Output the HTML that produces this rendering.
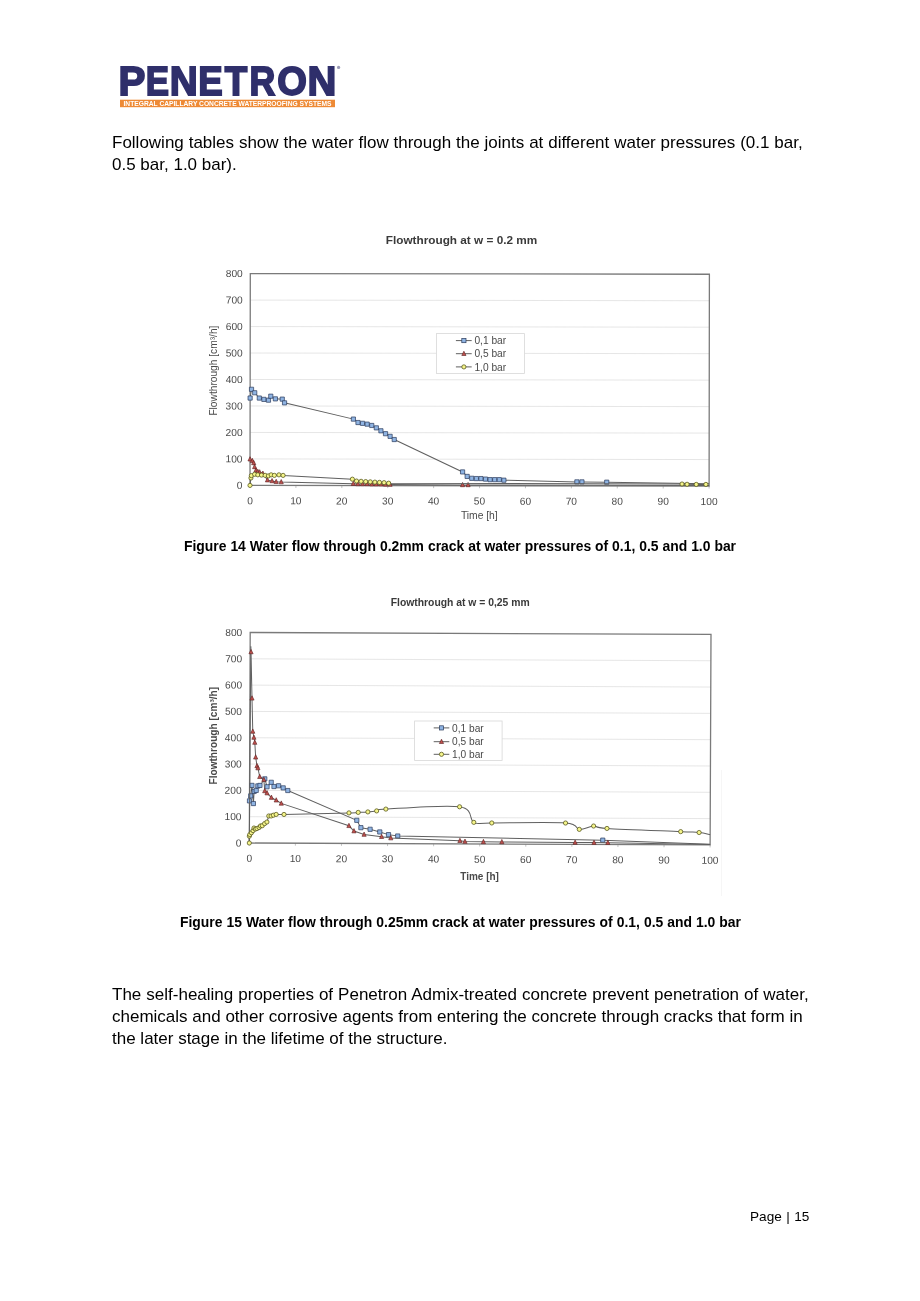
<!DOCTYPE html>
<html><head><meta charset="utf-8"><title>Penetron page 15</title>
<style>
html,body{margin:0;padding:0;background:#fff;}
body{width:920px;height:1301px;position:relative;overflow:hidden;font-family:"Liberation Sans",sans-serif;color:#000;}
.t{position:absolute;white-space:nowrap;margin:0;will-change:transform;}
.body{font-size:17px;line-height:22px;}
.cap{font-size:13.9px;font-weight:bold;line-height:16px;}
svg{position:absolute;left:0;top:0;will-change:transform;}
.ax{font-family:"Liberation Sans",sans-serif;font-size:10.2px;fill:#4a4a4a;}
.tt{font-family:"Liberation Sans",sans-serif;font-weight:bold;fill:#3a3a3a;}
.lgo{font-family:"Liberation Sans",sans-serif;font-weight:bold;font-size:41px;fill:#2f2f6b;stroke:#2f2f6b;stroke-width:1.8px;}
.lg{font-family:"Liberation Sans",sans-serif;fill:#4a4a4a;}
</style></head><body>
<svg width="920" height="1301" viewBox="0 0 920 1301">
<!-- logo -->
<text transform="translate(118.6 0) scale(0.9826 1)" x="0" y="95.2" class="lgo">P</text>
<text transform="translate(145.76 0) scale(0.8521 1)" x="0" y="95.2" class="lgo">E</text>
<text transform="translate(169.81 0) scale(0.9459 1)" x="0" y="95.2" class="lgo">N</text>
<text transform="translate(198.24 0) scale(0.8956 1)" x="0" y="95.2" class="lgo">E</text>
<text transform="translate(224.79 0) scale(0.8988 1)" x="0" y="95.2" class="lgo">T</text>
<text transform="translate(249.41 0) scale(0.8722 1)" x="0" y="95.2" class="lgo">R</text>
<text transform="translate(277.34 0) scale(0.9302 1)" x="0" y="95.2" class="lgo">O</text>
<text transform="translate(307.53 0) scale(0.9750 1)" x="0" y="95.2" class="lgo">N</text>
<circle cx="338.6" cy="67.4" r="1.6" fill="#9a9ab5"/>
<rect x="120" y="99.7" width="215" height="7.5" fill="#ee8a35"/>
<text x="123.5" y="105.7" textLength="208" lengthAdjust="spacingAndGlyphs" style="font-family:'Liberation Sans',sans-serif;font-weight:bold;font-size:6.6px;fill:#fff">INTEGRAL CAPILLARY CONCRETE WATERPROOFING SYSTEMS</text>
<text x="461.5" y="243.6" text-anchor="middle" class="tt" style="font-size:11.7px" textLength="151.5" lengthAdjust="spacingAndGlyphs">Flowthrough at w = 0.2 mm</text>
<g transform="rotate(0.08 250.3 273.6)">
<line x1="250.3" y1="458.92" x2="709.4" y2="458.92" stroke="#e0e0e0" stroke-width="0.8"/>
<line x1="250.3" y1="432.45" x2="709.4" y2="432.45" stroke="#e0e0e0" stroke-width="0.8"/>
<line x1="250.3" y1="405.98" x2="709.4" y2="405.98" stroke="#e0e0e0" stroke-width="0.8"/>
<line x1="250.3" y1="379.5" x2="709.4" y2="379.5" stroke="#e0e0e0" stroke-width="0.8"/>
<line x1="250.3" y1="353.02" x2="709.4" y2="353.02" stroke="#e0e0e0" stroke-width="0.8"/>
<line x1="250.3" y1="326.55" x2="709.4" y2="326.55" stroke="#e0e0e0" stroke-width="0.8"/>
<line x1="250.3" y1="300.08" x2="709.4" y2="300.08" stroke="#e0e0e0" stroke-width="0.8"/>
<line x1="250.3" y1="485.4" x2="250.3" y2="487.9" stroke="#aaa" stroke-width="0.7"/>
<line x1="296.21" y1="485.4" x2="296.21" y2="487.9" stroke="#aaa" stroke-width="0.7"/>
<line x1="342.12" y1="485.4" x2="342.12" y2="487.9" stroke="#aaa" stroke-width="0.7"/>
<line x1="388.03" y1="485.4" x2="388.03" y2="487.9" stroke="#aaa" stroke-width="0.7"/>
<line x1="433.94" y1="485.4" x2="433.94" y2="487.9" stroke="#aaa" stroke-width="0.7"/>
<line x1="479.85" y1="485.4" x2="479.85" y2="487.9" stroke="#aaa" stroke-width="0.7"/>
<line x1="525.76" y1="485.4" x2="525.76" y2="487.9" stroke="#aaa" stroke-width="0.7"/>
<line x1="571.67" y1="485.4" x2="571.67" y2="487.9" stroke="#aaa" stroke-width="0.7"/>
<line x1="617.58" y1="485.4" x2="617.58" y2="487.9" stroke="#aaa" stroke-width="0.7"/>
<line x1="663.49" y1="485.4" x2="663.49" y2="487.9" stroke="#aaa" stroke-width="0.7"/>
<line x1="709.4" y1="485.4" x2="709.4" y2="487.9" stroke="#aaa" stroke-width="0.7"/>
<rect x="250.3" y="273.6" width="459.1" height="211.8" fill="none" stroke="#7a7a7a" stroke-width="1.3"/>
<text x="242.8" y="488.9" text-anchor="end" class="ax">0</text>
<text x="242.8" y="462.42" text-anchor="end" class="ax">100</text>
<text x="242.8" y="435.95" text-anchor="end" class="ax">200</text>
<text x="242.8" y="409.48" text-anchor="end" class="ax">300</text>
<text x="242.8" y="383" text-anchor="end" class="ax">400</text>
<text x="242.8" y="356.52" text-anchor="end" class="ax">500</text>
<text x="242.8" y="330.05" text-anchor="end" class="ax">600</text>
<text x="242.8" y="303.58" text-anchor="end" class="ax">700</text>
<text x="242.8" y="277.1" text-anchor="end" class="ax">800</text>
<text x="250.3" y="504.3" text-anchor="middle" class="ax">0</text>
<text x="296.21" y="504.3" text-anchor="middle" class="ax">10</text>
<text x="342.12" y="504.3" text-anchor="middle" class="ax">20</text>
<text x="388.03" y="504.3" text-anchor="middle" class="ax">30</text>
<text x="433.94" y="504.3" text-anchor="middle" class="ax">40</text>
<text x="479.85" y="504.3" text-anchor="middle" class="ax">50</text>
<text x="525.76" y="504.3" text-anchor="middle" class="ax">60</text>
<text x="571.67" y="504.3" text-anchor="middle" class="ax">70</text>
<text x="617.58" y="504.3" text-anchor="middle" class="ax">80</text>
<text x="663.49" y="504.3" text-anchor="middle" class="ax">90</text>
<text x="709.4" y="504.3" text-anchor="middle" class="ax">100</text>
<path d="M250.3 398.03 L251.68 389.3 L254.89 392.74 L259.48 398.03 L264.07 399.36 L268.66 400.15 L270.96 396.18 L275.55 398.83 L282.44 399.09 L284.73 402.8 L353.6 418.95 L358.19 422.39 L362.78 423.18 L367.37 423.98 L371.96 425.3 L376.55 427.68 L381.14 430.6 L385.73 433.51 L390.33 436.16 L394.46 439.33 L462.86 471.63 L467.45 476.13 L472.05 477.99 L476.64 478.25 L481.23 478.25 L485.82 478.78 L490.41 479.31 L495 479.31 L499.59 479.31 L504.18 479.84 L577.18 481.43 L582.23 481.43 L607.02 481.69 L709.4 483.02" fill="none" stroke="#606060" stroke-width="1"/>
<rect x="248.2" y="395.93" width="4.2" height="4.2" fill="#8fb4e3" stroke="#2a3a5a" stroke-width="0.7"/>
<rect x="249.58" y="387.2" width="4.2" height="4.2" fill="#8fb4e3" stroke="#2a3a5a" stroke-width="0.7"/>
<rect x="252.79" y="390.64" width="4.2" height="4.2" fill="#8fb4e3" stroke="#2a3a5a" stroke-width="0.7"/>
<rect x="257.38" y="395.93" width="4.2" height="4.2" fill="#8fb4e3" stroke="#2a3a5a" stroke-width="0.7"/>
<rect x="261.97" y="397.26" width="4.2" height="4.2" fill="#8fb4e3" stroke="#2a3a5a" stroke-width="0.7"/>
<rect x="266.56" y="398.05" width="4.2" height="4.2" fill="#8fb4e3" stroke="#2a3a5a" stroke-width="0.7"/>
<rect x="268.86" y="394.08" width="4.2" height="4.2" fill="#8fb4e3" stroke="#2a3a5a" stroke-width="0.7"/>
<rect x="273.45" y="396.73" width="4.2" height="4.2" fill="#8fb4e3" stroke="#2a3a5a" stroke-width="0.7"/>
<rect x="280.34" y="396.99" width="4.2" height="4.2" fill="#8fb4e3" stroke="#2a3a5a" stroke-width="0.7"/>
<rect x="282.63" y="400.7" width="4.2" height="4.2" fill="#8fb4e3" stroke="#2a3a5a" stroke-width="0.7"/>
<rect x="351.5" y="416.85" width="4.2" height="4.2" fill="#8fb4e3" stroke="#2a3a5a" stroke-width="0.7"/>
<rect x="356.09" y="420.29" width="4.2" height="4.2" fill="#8fb4e3" stroke="#2a3a5a" stroke-width="0.7"/>
<rect x="360.68" y="421.08" width="4.2" height="4.2" fill="#8fb4e3" stroke="#2a3a5a" stroke-width="0.7"/>
<rect x="365.27" y="421.88" width="4.2" height="4.2" fill="#8fb4e3" stroke="#2a3a5a" stroke-width="0.7"/>
<rect x="369.86" y="423.2" width="4.2" height="4.2" fill="#8fb4e3" stroke="#2a3a5a" stroke-width="0.7"/>
<rect x="374.45" y="425.58" width="4.2" height="4.2" fill="#8fb4e3" stroke="#2a3a5a" stroke-width="0.7"/>
<rect x="379.04" y="428.5" width="4.2" height="4.2" fill="#8fb4e3" stroke="#2a3a5a" stroke-width="0.7"/>
<rect x="383.63" y="431.41" width="4.2" height="4.2" fill="#8fb4e3" stroke="#2a3a5a" stroke-width="0.7"/>
<rect x="388.23" y="434.06" width="4.2" height="4.2" fill="#8fb4e3" stroke="#2a3a5a" stroke-width="0.7"/>
<rect x="392.36" y="437.23" width="4.2" height="4.2" fill="#8fb4e3" stroke="#2a3a5a" stroke-width="0.7"/>
<rect x="460.76" y="469.53" width="4.2" height="4.2" fill="#8fb4e3" stroke="#2a3a5a" stroke-width="0.7"/>
<rect x="465.35" y="474.03" width="4.2" height="4.2" fill="#8fb4e3" stroke="#2a3a5a" stroke-width="0.7"/>
<rect x="469.95" y="475.89" width="4.2" height="4.2" fill="#8fb4e3" stroke="#2a3a5a" stroke-width="0.7"/>
<rect x="474.54" y="476.15" width="4.2" height="4.2" fill="#8fb4e3" stroke="#2a3a5a" stroke-width="0.7"/>
<rect x="479.13" y="476.15" width="4.2" height="4.2" fill="#8fb4e3" stroke="#2a3a5a" stroke-width="0.7"/>
<rect x="483.72" y="476.68" width="4.2" height="4.2" fill="#8fb4e3" stroke="#2a3a5a" stroke-width="0.7"/>
<rect x="488.31" y="477.21" width="4.2" height="4.2" fill="#8fb4e3" stroke="#2a3a5a" stroke-width="0.7"/>
<rect x="492.9" y="477.21" width="4.2" height="4.2" fill="#8fb4e3" stroke="#2a3a5a" stroke-width="0.7"/>
<rect x="497.49" y="477.21" width="4.2" height="4.2" fill="#8fb4e3" stroke="#2a3a5a" stroke-width="0.7"/>
<rect x="502.08" y="477.74" width="4.2" height="4.2" fill="#8fb4e3" stroke="#2a3a5a" stroke-width="0.7"/>
<rect x="575.08" y="479.33" width="4.2" height="4.2" fill="#8fb4e3" stroke="#2a3a5a" stroke-width="0.7"/>
<rect x="580.13" y="479.33" width="4.2" height="4.2" fill="#8fb4e3" stroke="#2a3a5a" stroke-width="0.7"/>
<rect x="604.92" y="479.59" width="4.2" height="4.2" fill="#8fb4e3" stroke="#2a3a5a" stroke-width="0.7"/>
<path d="M250.3 459.19 L252.6 460.78 L253.97 462.9 L254.89 466.87 L256.27 470.31 L258.1 471.63 L259.94 472.16 L263.15 473.49 L267.75 480.1 L272.34 480.9 L276.47 481.69 L281.52 481.96 L353.6 483.55 L358.19 483.81 L362.78 483.81 L367.37 483.81 L371.96 484.08 L376.55 484.08 L381.14 484.08 L385.73 484.34 L390.33 484.34 L462.86 484.61 L468.37 484.61 L709.4 484.87" fill="none" stroke="#606060" stroke-width="1"/>
<path d="M250.3 456.69L252.4 460.99L248.2 460.99Z" fill="#c0504d" stroke="#5a2020" stroke-width="0.6"/>
<path d="M252.6 458.28L254.7 462.58L250.5 462.58Z" fill="#c0504d" stroke="#5a2020" stroke-width="0.6"/>
<path d="M253.97 460.4L256.07 464.7L251.87 464.7Z" fill="#c0504d" stroke="#5a2020" stroke-width="0.6"/>
<path d="M254.89 464.37L256.99 468.67L252.79 468.67Z" fill="#c0504d" stroke="#5a2020" stroke-width="0.6"/>
<path d="M256.27 467.81L258.37 472.11L254.17 472.11Z" fill="#c0504d" stroke="#5a2020" stroke-width="0.6"/>
<path d="M258.1 469.13L260.2 473.43L256 473.43Z" fill="#c0504d" stroke="#5a2020" stroke-width="0.6"/>
<path d="M259.94 469.66L262.04 473.96L257.84 473.96Z" fill="#c0504d" stroke="#5a2020" stroke-width="0.6"/>
<path d="M263.15 470.99L265.25 475.29L261.05 475.29Z" fill="#c0504d" stroke="#5a2020" stroke-width="0.6"/>
<path d="M267.75 477.6L269.85 481.9L265.65 481.9Z" fill="#c0504d" stroke="#5a2020" stroke-width="0.6"/>
<path d="M272.34 478.4L274.44 482.7L270.24 482.7Z" fill="#c0504d" stroke="#5a2020" stroke-width="0.6"/>
<path d="M276.47 479.19L278.57 483.49L274.37 483.49Z" fill="#c0504d" stroke="#5a2020" stroke-width="0.6"/>
<path d="M281.52 479.46L283.62 483.76L279.42 483.76Z" fill="#c0504d" stroke="#5a2020" stroke-width="0.6"/>
<path d="M353.6 481.05L355.7 485.35L351.5 485.35Z" fill="#c0504d" stroke="#5a2020" stroke-width="0.6"/>
<path d="M358.19 481.31L360.29 485.61L356.09 485.61Z" fill="#c0504d" stroke="#5a2020" stroke-width="0.6"/>
<path d="M362.78 481.31L364.88 485.61L360.68 485.61Z" fill="#c0504d" stroke="#5a2020" stroke-width="0.6"/>
<path d="M367.37 481.31L369.47 485.61L365.27 485.61Z" fill="#c0504d" stroke="#5a2020" stroke-width="0.6"/>
<path d="M371.96 481.58L374.06 485.88L369.86 485.88Z" fill="#c0504d" stroke="#5a2020" stroke-width="0.6"/>
<path d="M376.55 481.58L378.65 485.88L374.45 485.88Z" fill="#c0504d" stroke="#5a2020" stroke-width="0.6"/>
<path d="M381.14 481.58L383.24 485.88L379.04 485.88Z" fill="#c0504d" stroke="#5a2020" stroke-width="0.6"/>
<path d="M385.73 481.84L387.83 486.14L383.63 486.14Z" fill="#c0504d" stroke="#5a2020" stroke-width="0.6"/>
<path d="M390.33 481.84L392.43 486.14L388.23 486.14Z" fill="#c0504d" stroke="#5a2020" stroke-width="0.6"/>
<path d="M462.86 482.11L464.96 486.41L460.76 486.41Z" fill="#c0504d" stroke="#5a2020" stroke-width="0.6"/>
<path d="M468.37 482.11L470.47 486.41L466.27 486.41Z" fill="#c0504d" stroke="#5a2020" stroke-width="0.6"/>
<path d="M250.3 485.4 L251.22 477.99 L251.68 475.6 L254.89 474.28 L258.1 474.81 L261.78 475.07 L265.45 475.34 L268.66 475.87 L271.42 474.81 L274.63 475.34 L279.22 474.81 L283.36 475.34 L352.68 479.05 L356.81 480.9 L361.4 481.16 L365.99 481.43 L370.58 481.69 L375.18 481.96 L379.77 482.22 L384.36 482.49 L388.95 483.02 L682.31 483.41 L687.36 483.68 L696.55 483.81 L706.19 483.81" fill="none" stroke="#606060" stroke-width="1"/>
<circle cx="250.3" cy="485.4" r="2.1" fill="#f5f58a" stroke="#5a5a20" stroke-width="0.8"/>
<circle cx="251.22" cy="477.99" r="2.1" fill="#f5f58a" stroke="#5a5a20" stroke-width="0.8"/>
<circle cx="251.68" cy="475.6" r="2.1" fill="#f5f58a" stroke="#5a5a20" stroke-width="0.8"/>
<circle cx="254.89" cy="474.28" r="2.1" fill="#f5f58a" stroke="#5a5a20" stroke-width="0.8"/>
<circle cx="258.1" cy="474.81" r="2.1" fill="#f5f58a" stroke="#5a5a20" stroke-width="0.8"/>
<circle cx="261.78" cy="475.07" r="2.1" fill="#f5f58a" stroke="#5a5a20" stroke-width="0.8"/>
<circle cx="265.45" cy="475.34" r="2.1" fill="#f5f58a" stroke="#5a5a20" stroke-width="0.8"/>
<circle cx="268.66" cy="475.87" r="2.1" fill="#f5f58a" stroke="#5a5a20" stroke-width="0.8"/>
<circle cx="271.42" cy="474.81" r="2.1" fill="#f5f58a" stroke="#5a5a20" stroke-width="0.8"/>
<circle cx="274.63" cy="475.34" r="2.1" fill="#f5f58a" stroke="#5a5a20" stroke-width="0.8"/>
<circle cx="279.22" cy="474.81" r="2.1" fill="#f5f58a" stroke="#5a5a20" stroke-width="0.8"/>
<circle cx="283.36" cy="475.34" r="2.1" fill="#f5f58a" stroke="#5a5a20" stroke-width="0.8"/>
<circle cx="352.68" cy="479.05" r="2.1" fill="#f5f58a" stroke="#5a5a20" stroke-width="0.8"/>
<circle cx="356.81" cy="480.9" r="2.1" fill="#f5f58a" stroke="#5a5a20" stroke-width="0.8"/>
<circle cx="361.4" cy="481.16" r="2.1" fill="#f5f58a" stroke="#5a5a20" stroke-width="0.8"/>
<circle cx="365.99" cy="481.43" r="2.1" fill="#f5f58a" stroke="#5a5a20" stroke-width="0.8"/>
<circle cx="370.58" cy="481.69" r="2.1" fill="#f5f58a" stroke="#5a5a20" stroke-width="0.8"/>
<circle cx="375.18" cy="481.96" r="2.1" fill="#f5f58a" stroke="#5a5a20" stroke-width="0.8"/>
<circle cx="379.77" cy="482.22" r="2.1" fill="#f5f58a" stroke="#5a5a20" stroke-width="0.8"/>
<circle cx="384.36" cy="482.49" r="2.1" fill="#f5f58a" stroke="#5a5a20" stroke-width="0.8"/>
<circle cx="388.95" cy="483.02" r="2.1" fill="#f5f58a" stroke="#5a5a20" stroke-width="0.8"/>
<circle cx="682.31" cy="483.41" r="2.1" fill="#f5f58a" stroke="#5a5a20" stroke-width="0.8"/>
<circle cx="687.36" cy="483.68" r="2.1" fill="#f5f58a" stroke="#5a5a20" stroke-width="0.8"/>
<circle cx="696.55" cy="483.81" r="2.1" fill="#f5f58a" stroke="#5a5a20" stroke-width="0.8"/>
<circle cx="706.19" cy="483.81" r="2.1" fill="#f5f58a" stroke="#5a5a20" stroke-width="0.8"/>
</g>
<text transform="translate(216.8 370.6) rotate(-90)" text-anchor="middle" class="ax" style="font-size:10.2px">Flowthrough [cm³/h]</text>
<text x="479.3" y="519" text-anchor="middle" class="ax" style="font-size:10.3px">Time [h]</text>
<rect x="436.4" y="333.6" width="88.2" height="39.8" fill="#fff" stroke="#d8d8d8" stroke-width="0.8"/>
<line x1="455.9" y1="340.6" x2="471.7" y2="340.6" stroke="#606060" stroke-width="1"/>
<rect x="461.8" y="338.5" width="4.2" height="4.2" fill="#8fb4e3" stroke="#2a3a5a" stroke-width="0.7"/>
<text x="474.4" y="344.27" class="lg" style="font-size:10.2px">0,1 bar</text>
<line x1="455.9" y1="353.7" x2="471.7" y2="353.7" stroke="#606060" stroke-width="1"/>
<path d="M463.9 351.2L466 355.5L461.8 355.5Z" fill="#c0504d" stroke="#5a2020" stroke-width="0.6"/>
<text x="474.4" y="357.37" class="lg" style="font-size:10.2px">0,5 bar</text>
<line x1="455.9" y1="366.9" x2="471.7" y2="366.9" stroke="#606060" stroke-width="1"/>
<circle cx="463.9" cy="366.9" r="2.1" fill="#f5f58a" stroke="#5a5a20" stroke-width="0.8"/>
<text x="474.4" y="370.57" class="lg" style="font-size:10.2px">1,0 bar</text>
<line x1="721.5" y1="770" x2="721.5" y2="896" stroke="#f6f6f6" stroke-width="1"/>
<text x="460.2" y="605.9" text-anchor="middle" class="tt" style="font-size:10.4px" textLength="139" lengthAdjust="spacingAndGlyphs">Flowthrough at w = 0,25 mm</text>
<g transform="rotate(0.24 250.2 632.5)">
<line x1="250.2" y1="816.69" x2="711" y2="816.69" stroke="#e0e0e0" stroke-width="0.8"/>
<line x1="250.2" y1="790.38" x2="711" y2="790.38" stroke="#e0e0e0" stroke-width="0.8"/>
<line x1="250.2" y1="764.06" x2="711" y2="764.06" stroke="#e0e0e0" stroke-width="0.8"/>
<line x1="250.2" y1="737.75" x2="711" y2="737.75" stroke="#e0e0e0" stroke-width="0.8"/>
<line x1="250.2" y1="711.44" x2="711" y2="711.44" stroke="#e0e0e0" stroke-width="0.8"/>
<line x1="250.2" y1="685.12" x2="711" y2="685.12" stroke="#e0e0e0" stroke-width="0.8"/>
<line x1="250.2" y1="658.81" x2="711" y2="658.81" stroke="#e0e0e0" stroke-width="0.8"/>
<line x1="250.2" y1="843" x2="250.2" y2="845.5" stroke="#aaa" stroke-width="0.7"/>
<line x1="296.28" y1="843" x2="296.28" y2="845.5" stroke="#aaa" stroke-width="0.7"/>
<line x1="342.36" y1="843" x2="342.36" y2="845.5" stroke="#aaa" stroke-width="0.7"/>
<line x1="388.44" y1="843" x2="388.44" y2="845.5" stroke="#aaa" stroke-width="0.7"/>
<line x1="434.52" y1="843" x2="434.52" y2="845.5" stroke="#aaa" stroke-width="0.7"/>
<line x1="480.6" y1="843" x2="480.6" y2="845.5" stroke="#aaa" stroke-width="0.7"/>
<line x1="526.68" y1="843" x2="526.68" y2="845.5" stroke="#aaa" stroke-width="0.7"/>
<line x1="572.76" y1="843" x2="572.76" y2="845.5" stroke="#aaa" stroke-width="0.7"/>
<line x1="618.84" y1="843" x2="618.84" y2="845.5" stroke="#aaa" stroke-width="0.7"/>
<line x1="664.92" y1="843" x2="664.92" y2="845.5" stroke="#aaa" stroke-width="0.7"/>
<line x1="711" y1="843" x2="711" y2="845.5" stroke="#aaa" stroke-width="0.7"/>
<rect x="250.2" y="632.5" width="460.8" height="210.5" fill="none" stroke="#7a7a7a" stroke-width="1.3"/>
<text x="242.3" y="846.5" text-anchor="end" class="ax">0</text>
<text x="242.3" y="820.19" text-anchor="end" class="ax">100</text>
<text x="242.3" y="793.88" text-anchor="end" class="ax">200</text>
<text x="242.3" y="767.56" text-anchor="end" class="ax">300</text>
<text x="242.3" y="741.25" text-anchor="end" class="ax">400</text>
<text x="242.3" y="714.94" text-anchor="end" class="ax">500</text>
<text x="242.3" y="688.62" text-anchor="end" class="ax">600</text>
<text x="242.3" y="662.31" text-anchor="end" class="ax">700</text>
<text x="242.3" y="636" text-anchor="end" class="ax">800</text>
<text x="250.2" y="861.8" text-anchor="middle" class="ax">0</text>
<text x="296.28" y="861.8" text-anchor="middle" class="ax">10</text>
<text x="342.36" y="861.8" text-anchor="middle" class="ax">20</text>
<text x="388.44" y="861.8" text-anchor="middle" class="ax">30</text>
<text x="434.52" y="861.8" text-anchor="middle" class="ax">40</text>
<text x="480.6" y="861.8" text-anchor="middle" class="ax">50</text>
<text x="526.68" y="861.8" text-anchor="middle" class="ax">60</text>
<text x="572.76" y="861.8" text-anchor="middle" class="ax">70</text>
<text x="618.84" y="861.8" text-anchor="middle" class="ax">80</text>
<text x="664.92" y="861.8" text-anchor="middle" class="ax">90</text>
<text x="711" y="861.8" text-anchor="middle" class="ax">100</text>
<path d="M250.2 800.9 L251.4 795.9 L252.6 785.38 L254.12 803.53 L254.81 791.43 L256.88 790.38 L258.49 785.9 L260.61 785.38 L265.41 778.8 L267.71 786.69 L271.86 782.22 L274.62 786.43 L279.23 785.64 L283.84 787.74 L288.45 790.38 L357.57 819.85 L361.71 827.21 L370.93 828.79 L380.61 831.42 L389.36 834.05 L398.58 835.37 L603.63 838.66 L711 842.21" fill="none" stroke="#606060" stroke-width="1"/>
<rect x="248.1" y="798.8" width="4.2" height="4.2" fill="#8fb4e3" stroke="#2a3a5a" stroke-width="0.7"/>
<rect x="249.3" y="793.8" width="4.2" height="4.2" fill="#8fb4e3" stroke="#2a3a5a" stroke-width="0.7"/>
<rect x="250.5" y="783.28" width="4.2" height="4.2" fill="#8fb4e3" stroke="#2a3a5a" stroke-width="0.7"/>
<rect x="252.02" y="801.43" width="4.2" height="4.2" fill="#8fb4e3" stroke="#2a3a5a" stroke-width="0.7"/>
<rect x="252.71" y="789.33" width="4.2" height="4.2" fill="#8fb4e3" stroke="#2a3a5a" stroke-width="0.7"/>
<rect x="254.78" y="788.27" width="4.2" height="4.2" fill="#8fb4e3" stroke="#2a3a5a" stroke-width="0.7"/>
<rect x="256.39" y="783.8" width="4.2" height="4.2" fill="#8fb4e3" stroke="#2a3a5a" stroke-width="0.7"/>
<rect x="258.51" y="783.28" width="4.2" height="4.2" fill="#8fb4e3" stroke="#2a3a5a" stroke-width="0.7"/>
<rect x="263.31" y="776.7" width="4.2" height="4.2" fill="#8fb4e3" stroke="#2a3a5a" stroke-width="0.7"/>
<rect x="265.61" y="784.59" width="4.2" height="4.2" fill="#8fb4e3" stroke="#2a3a5a" stroke-width="0.7"/>
<rect x="269.76" y="780.12" width="4.2" height="4.2" fill="#8fb4e3" stroke="#2a3a5a" stroke-width="0.7"/>
<rect x="272.52" y="784.33" width="4.2" height="4.2" fill="#8fb4e3" stroke="#2a3a5a" stroke-width="0.7"/>
<rect x="277.13" y="783.54" width="4.2" height="4.2" fill="#8fb4e3" stroke="#2a3a5a" stroke-width="0.7"/>
<rect x="281.74" y="785.64" width="4.2" height="4.2" fill="#8fb4e3" stroke="#2a3a5a" stroke-width="0.7"/>
<rect x="286.35" y="788.27" width="4.2" height="4.2" fill="#8fb4e3" stroke="#2a3a5a" stroke-width="0.7"/>
<rect x="355.47" y="817.75" width="4.2" height="4.2" fill="#8fb4e3" stroke="#2a3a5a" stroke-width="0.7"/>
<rect x="359.61" y="825.11" width="4.2" height="4.2" fill="#8fb4e3" stroke="#2a3a5a" stroke-width="0.7"/>
<rect x="368.83" y="826.69" width="4.2" height="4.2" fill="#8fb4e3" stroke="#2a3a5a" stroke-width="0.7"/>
<rect x="378.51" y="829.32" width="4.2" height="4.2" fill="#8fb4e3" stroke="#2a3a5a" stroke-width="0.7"/>
<rect x="387.26" y="831.95" width="4.2" height="4.2" fill="#8fb4e3" stroke="#2a3a5a" stroke-width="0.7"/>
<rect x="396.48" y="833.27" width="4.2" height="4.2" fill="#8fb4e3" stroke="#2a3a5a" stroke-width="0.7"/>
<rect x="601.53" y="836.56" width="4.2" height="4.2" fill="#8fb4e3" stroke="#2a3a5a" stroke-width="0.7"/>
<path d="M250.2 843 L250.89 646.18 L251.12 651.97 L252.27 698.28 L253.2 731.43 L254.35 737.49 L255.27 742.49 L256.19 757.22 L257.57 765.9 L258.49 768.01 L260.34 776.69 L264.48 779.59 L265.41 790.9 L267.71 793.01 L272.09 797.48 L276.93 800.11 L282 803.27 L349.73 825.37 L354.8 830.63 L364.94 834.05 L382.45 836.16 L391.67 837.47 L460.79 839.84 L465.85 840.63 L484.29 840.89 L502.72 840.89 L575.99 841.16 L594.88 841.16 L608.7 841.16 L711 842.47" fill="none" stroke="#606060" stroke-width="1"/>
<path d="M251.12 649.47L253.22 653.77L249.02 653.77Z" fill="#c0504d" stroke="#5a2020" stroke-width="0.6"/>
<path d="M252.27 695.78L254.37 700.08L250.17 700.08Z" fill="#c0504d" stroke="#5a2020" stroke-width="0.6"/>
<path d="M253.2 728.93L255.3 733.24L251.1 733.24Z" fill="#c0504d" stroke="#5a2020" stroke-width="0.6"/>
<path d="M254.35 734.99L256.45 739.29L252.25 739.29Z" fill="#c0504d" stroke="#5a2020" stroke-width="0.6"/>
<path d="M255.27 739.99L257.37 744.29L253.17 744.29Z" fill="#c0504d" stroke="#5a2020" stroke-width="0.6"/>
<path d="M256.19 754.72L258.29 759.02L254.09 759.02Z" fill="#c0504d" stroke="#5a2020" stroke-width="0.6"/>
<path d="M257.57 763.4L259.67 767.7L255.47 767.7Z" fill="#c0504d" stroke="#5a2020" stroke-width="0.6"/>
<path d="M258.49 765.51L260.59 769.81L256.39 769.81Z" fill="#c0504d" stroke="#5a2020" stroke-width="0.6"/>
<path d="M260.34 774.19L262.44 778.49L258.24 778.49Z" fill="#c0504d" stroke="#5a2020" stroke-width="0.6"/>
<path d="M264.48 777.09L266.58 781.39L262.38 781.39Z" fill="#c0504d" stroke="#5a2020" stroke-width="0.6"/>
<path d="M265.41 788.4L267.51 792.7L263.31 792.7Z" fill="#c0504d" stroke="#5a2020" stroke-width="0.6"/>
<path d="M267.71 790.51L269.81 794.81L265.61 794.81Z" fill="#c0504d" stroke="#5a2020" stroke-width="0.6"/>
<path d="M272.09 794.98L274.19 799.28L269.99 799.28Z" fill="#c0504d" stroke="#5a2020" stroke-width="0.6"/>
<path d="M276.93 797.61L279.03 801.91L274.83 801.91Z" fill="#c0504d" stroke="#5a2020" stroke-width="0.6"/>
<path d="M282 800.77L284.1 805.07L279.9 805.07Z" fill="#c0504d" stroke="#5a2020" stroke-width="0.6"/>
<path d="M349.73 822.87L351.83 827.17L347.63 827.17Z" fill="#c0504d" stroke="#5a2020" stroke-width="0.6"/>
<path d="M354.8 828.13L356.9 832.43L352.7 832.43Z" fill="#c0504d" stroke="#5a2020" stroke-width="0.6"/>
<path d="M364.94 831.55L367.04 835.85L362.84 835.85Z" fill="#c0504d" stroke="#5a2020" stroke-width="0.6"/>
<path d="M382.45 833.66L384.55 837.96L380.35 837.96Z" fill="#c0504d" stroke="#5a2020" stroke-width="0.6"/>
<path d="M391.67 834.97L393.77 839.27L389.57 839.27Z" fill="#c0504d" stroke="#5a2020" stroke-width="0.6"/>
<path d="M460.79 837.34L462.89 841.64L458.69 841.64Z" fill="#c0504d" stroke="#5a2020" stroke-width="0.6"/>
<path d="M465.85 838.13L467.95 842.43L463.75 842.43Z" fill="#c0504d" stroke="#5a2020" stroke-width="0.6"/>
<path d="M484.29 838.39L486.39 842.7L482.19 842.7Z" fill="#c0504d" stroke="#5a2020" stroke-width="0.6"/>
<path d="M502.72 838.39L504.82 842.7L500.62 842.7Z" fill="#c0504d" stroke="#5a2020" stroke-width="0.6"/>
<path d="M575.99 838.66L578.09 842.96L573.89 842.96Z" fill="#c0504d" stroke="#5a2020" stroke-width="0.6"/>
<path d="M594.88 838.66L596.98 842.96L592.78 842.96Z" fill="#c0504d" stroke="#5a2020" stroke-width="0.6"/>
<path d="M608.7 838.66L610.8 842.96L606.6 842.96Z" fill="#c0504d" stroke="#5a2020" stroke-width="0.6"/>
<path d="M250.2 843 C250.2 841.86 250.12 837.56 250.2 836.16 C250.28 834.76 250.32 835.15 250.66 834.58 C251.01 834.01 251.74 833.4 252.27 832.74 C252.81 832.08 253.46 831.42 253.89 830.63 C254.31 829.84 254.42 828.26 254.81 828 C255.19 827.74 255.69 828.97 256.19 829.05 C256.69 829.14 257.19 828.79 257.8 828.53 C258.42 828.27 259.3 827.91 259.88 827.48 C260.45 827.04 260.72 826.2 261.26 825.9 C261.8 825.59 262.41 826.03 263.1 825.63 C263.79 825.24 264.64 824.14 265.41 823.53 C266.17 822.91 267.02 823.22 267.71 821.95 C268.4 820.68 268.86 816.91 269.55 815.9 C270.24 814.89 271.09 816.03 271.86 815.9 C272.63 815.77 273.32 815.37 274.16 815.11 C275.01 814.85 275.16 814.45 276.93 814.32 C278.69 814.19 272.63 814.63 284.76 814.32 C296.89 814.01 337.37 812.87 349.73 812.48 C362.1 812.08 355.8 812.13 358.95 811.95 C362.1 811.78 365.55 811.69 368.63 811.42 C371.7 811.16 374.39 810.85 377.38 810.37 C380.38 809.89 372.77 809.28 386.6 808.53 C400.42 807.79 445.66 803.75 460.32 805.9 C474.99 808.05 469.23 818.75 474.61 821.42 C479.99 824.1 477.3 821.91 492.58 821.95 C507.86 821.99 551.72 820.68 566.31 821.69 C580.9 822.7 575.45 827.52 580.13 828 C584.82 828.48 589.81 824.76 594.42 824.58 C599.03 824.41 593.27 826.07 607.78 826.95 C622.3 827.83 666.15 829.23 681.51 829.84 C696.87 830.46 695.03 830.15 699.94 830.63 C704.86 831.12 709.16 832.39 711 832.74" fill="none" stroke="#606060" stroke-width="1"/>
<circle cx="250.2" cy="843" r="2.1" fill="#f5f58a" stroke="#5a5a20" stroke-width="0.8"/>
<circle cx="250.2" cy="836.16" r="2.1" fill="#f5f58a" stroke="#5a5a20" stroke-width="0.8"/>
<circle cx="250.66" cy="834.58" r="2.1" fill="#f5f58a" stroke="#5a5a20" stroke-width="0.8"/>
<circle cx="252.27" cy="832.74" r="2.1" fill="#f5f58a" stroke="#5a5a20" stroke-width="0.8"/>
<circle cx="253.89" cy="830.63" r="2.1" fill="#f5f58a" stroke="#5a5a20" stroke-width="0.8"/>
<circle cx="254.81" cy="828" r="2.1" fill="#f5f58a" stroke="#5a5a20" stroke-width="0.8"/>
<circle cx="256.19" cy="829.05" r="2.1" fill="#f5f58a" stroke="#5a5a20" stroke-width="0.8"/>
<circle cx="257.8" cy="828.53" r="2.1" fill="#f5f58a" stroke="#5a5a20" stroke-width="0.8"/>
<circle cx="259.88" cy="827.48" r="2.1" fill="#f5f58a" stroke="#5a5a20" stroke-width="0.8"/>
<circle cx="261.26" cy="825.9" r="2.1" fill="#f5f58a" stroke="#5a5a20" stroke-width="0.8"/>
<circle cx="263.1" cy="825.63" r="2.1" fill="#f5f58a" stroke="#5a5a20" stroke-width="0.8"/>
<circle cx="265.41" cy="823.53" r="2.1" fill="#f5f58a" stroke="#5a5a20" stroke-width="0.8"/>
<circle cx="267.71" cy="821.95" r="2.1" fill="#f5f58a" stroke="#5a5a20" stroke-width="0.8"/>
<circle cx="269.55" cy="815.9" r="2.1" fill="#f5f58a" stroke="#5a5a20" stroke-width="0.8"/>
<circle cx="271.86" cy="815.9" r="2.1" fill="#f5f58a" stroke="#5a5a20" stroke-width="0.8"/>
<circle cx="274.16" cy="815.11" r="2.1" fill="#f5f58a" stroke="#5a5a20" stroke-width="0.8"/>
<circle cx="276.93" cy="814.32" r="2.1" fill="#f5f58a" stroke="#5a5a20" stroke-width="0.8"/>
<circle cx="284.76" cy="814.32" r="2.1" fill="#f5f58a" stroke="#5a5a20" stroke-width="0.8"/>
<circle cx="349.73" cy="812.48" r="2.1" fill="#f5f58a" stroke="#5a5a20" stroke-width="0.8"/>
<circle cx="358.95" cy="811.95" r="2.1" fill="#f5f58a" stroke="#5a5a20" stroke-width="0.8"/>
<circle cx="368.63" cy="811.42" r="2.1" fill="#f5f58a" stroke="#5a5a20" stroke-width="0.8"/>
<circle cx="377.38" cy="810.37" r="2.1" fill="#f5f58a" stroke="#5a5a20" stroke-width="0.8"/>
<circle cx="386.6" cy="808.53" r="2.1" fill="#f5f58a" stroke="#5a5a20" stroke-width="0.8"/>
<circle cx="460.32" cy="805.9" r="2.1" fill="#f5f58a" stroke="#5a5a20" stroke-width="0.8"/>
<circle cx="474.61" cy="821.42" r="2.1" fill="#f5f58a" stroke="#5a5a20" stroke-width="0.8"/>
<circle cx="492.58" cy="821.95" r="2.1" fill="#f5f58a" stroke="#5a5a20" stroke-width="0.8"/>
<circle cx="566.31" cy="821.69" r="2.1" fill="#f5f58a" stroke="#5a5a20" stroke-width="0.8"/>
<circle cx="580.13" cy="828" r="2.1" fill="#f5f58a" stroke="#5a5a20" stroke-width="0.8"/>
<circle cx="594.42" cy="824.58" r="2.1" fill="#f5f58a" stroke="#5a5a20" stroke-width="0.8"/>
<circle cx="607.78" cy="826.95" r="2.1" fill="#f5f58a" stroke="#5a5a20" stroke-width="0.8"/>
<circle cx="681.51" cy="829.84" r="2.1" fill="#f5f58a" stroke="#5a5a20" stroke-width="0.8"/>
<circle cx="699.94" cy="830.63" r="2.1" fill="#f5f58a" stroke="#5a5a20" stroke-width="0.8"/>
</g>
<text transform="translate(217.4 735.7) rotate(-90)" text-anchor="middle" class="ax" style="font-size:10.1px;font-weight:bold">Flowthrough [cm³/h]</text>
<text x="479.6" y="880" text-anchor="middle" class="ax" style="font-size:10px;font-weight:bold">Time [h]</text>
<rect x="414.6" y="721" width="87.5" height="39.5" fill="#fff" stroke="#d8d8d8" stroke-width="0.8"/>
<line x1="433.7" y1="727.9" x2="449.3" y2="727.9" stroke="#606060" stroke-width="1"/>
<rect x="439.4" y="725.8" width="4.2" height="4.2" fill="#8fb4e3" stroke="#2a3a5a" stroke-width="0.7"/>
<text x="452" y="731.57" class="lg" style="font-size:10.2px">0,1 bar</text>
<line x1="433.7" y1="741.7" x2="449.3" y2="741.7" stroke="#606060" stroke-width="1"/>
<path d="M441.5 739.2L443.6 743.5L439.4 743.5Z" fill="#c0504d" stroke="#5a2020" stroke-width="0.6"/>
<text x="452" y="745.37" class="lg" style="font-size:10.2px">0,5 bar</text>
<line x1="433.7" y1="754.3" x2="449.3" y2="754.3" stroke="#606060" stroke-width="1"/>
<circle cx="441.5" cy="754.3" r="2.1" fill="#f5f58a" stroke="#5a5a20" stroke-width="0.8"/>
<text x="452" y="757.97" class="lg" style="font-size:10.2px">1,0 bar</text>
</svg>
<div class="t body" id="p1a" style="left:112px;top:132px;word-spacing:0.15px;">Following tables show the water flow through the joints at different water pressures (0.1 bar,</div>
<div class="t body" id="p1b" style="left:112px;top:154px;">0.5 bar, 1.0 bar).</div>
<div class="t cap" id="cap1" style="left:183.7px;top:537.5px;word-spacing:0.09px;">Figure 14 Water flow through 0.2mm crack at water pressures of 0.1, 0.5 and 1.0 bar</div>
<div class="t cap" id="cap2" style="left:179.7px;top:913.6px;word-spacing:0.17px;">Figure 15 Water flow through 0.25mm crack at water pressures of 0.1, 0.5 and 1.0 bar</div>
<div class="t body" id="p2a" style="left:112px;top:984px;word-spacing:0.3px;">The self-healing properties of Penetron Admix-treated concrete prevent penetration of water,</div>
<div class="t body" id="p2b" style="left:112px;top:1006px;">chemicals and other corrosive agents from entering the concrete through cracks that form in</div>
<div class="t body" id="p2c" style="left:112px;top:1028px;">the later stage in the lifetime of the structure.</div>
<div class="t" id="pg" style="left:750.2px;top:1208.8px;font-size:13.6px;word-spacing:0.7px;line-height:16px;">Page | 15</div>
</body></html>
